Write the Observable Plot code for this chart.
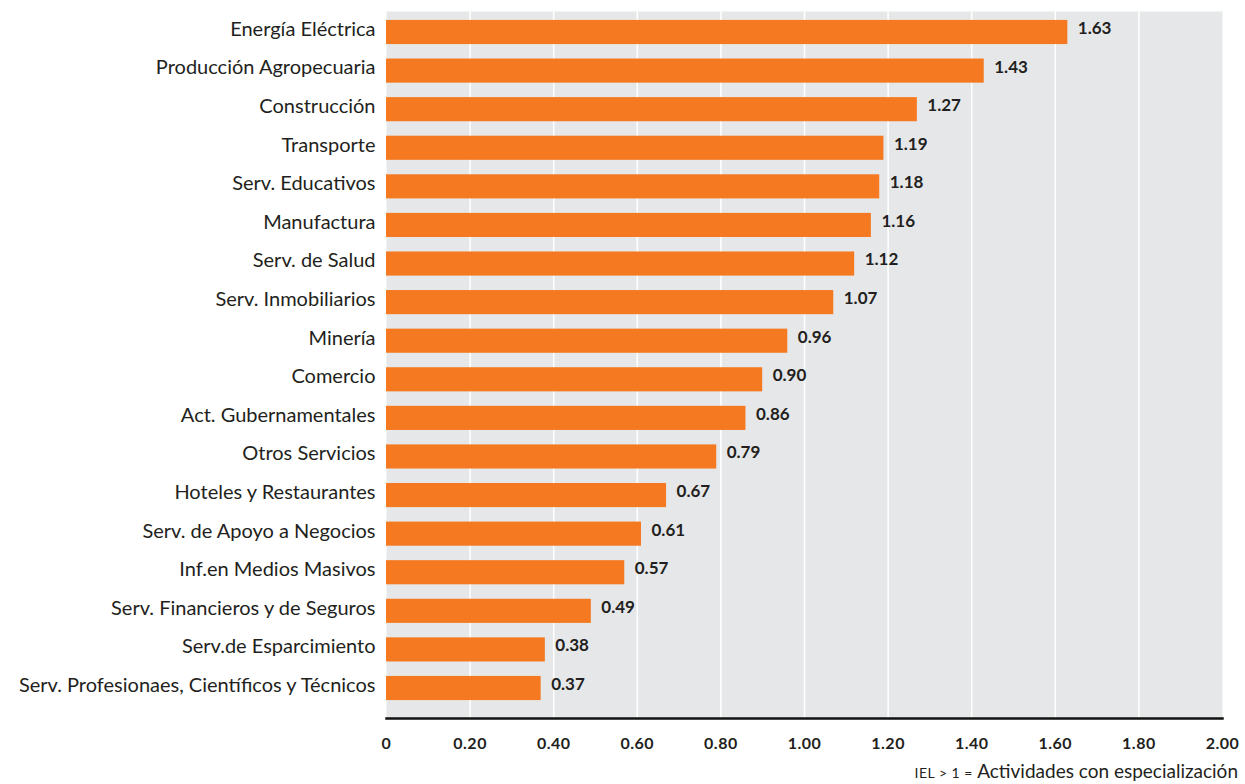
<!DOCTYPE html>
<html>
<head>
<meta charset="utf-8">
<script src="https://cdn.jsdelivr.net/npm/d3@7"></script>
<script src="https://cdn.jsdelivr.net/npm/@observablehq/plot@0.6"></script>
<style>
  html, body { margin: 0; padding: 0; background: #fff; }
  #wrap { position: relative; width: 1245px; height: 784px; overflow: hidden; }
  #chart svg { display: block; }
  #caption { position: absolute; left: 0; top: 761px; width: 1238px; text-align: right; font-family: Lato, "Open Sans", sans-serif; font-size: 19px; line-height: 20px; color: #231F20; white-space: nowrap; }
  #caption .sc { font-size: 14px; letter-spacing: 0.5px; }
</style>
</head>
<body>
<div id="wrap">
<div id="chart"></div>
<div id="caption"><span class="sc">IEL &gt; 1 =</span> Actividades con especialización</div>
</div>
<script>
const categories = [
  "Energía Eléctrica",
  "Producción Agropecuaria",
  "Construcción",
  "Transporte",
  "Serv. Educativos",
  "Manufactura",
  "Serv. de Salud",
  "Serv. Inmobiliarios",
  "Minería",
  "Comercio",
  "Act. Gubernamentales",
  "Otros Servicios",
  "Hoteles y Restaurantes",
  "Serv. de Apoyo a Negocios",
  "Inf.en Medios Masivos",
  "Serv. Financieros y de Seguros",
  "Serv.de Esparcimiento",
  "Serv. Profesionaes, Científicos y Técnicos"
];
const values = [1.63, 1.43, 1.27, 1.19, 1.18, 1.16, 1.12, 1.07, 0.96, 0.90, 0.86, 0.79, 0.67, 0.61, 0.57, 0.49, 0.38, 0.37];
const xTicks = [0, 0.2, 0.4, 0.6, 0.8, 1.0, 1.2, 1.4, 1.6, 1.8, 2.0];
const gridTicks = [0.2, 0.4, 0.6, 0.8, 1.0, 1.2, 1.4, 1.6, 1.8];

const data = categories.map((c, i) => ({category: c, value: values[i]}));
const fmt = d => d === 0 ? "0" : d.toFixed(2);

const chart = Plot.plot({
  width: 1245,
  height: 760,
  marginTop: 11,
  marginBottom: 42,
  marginLeft: 386,
  marginRight: 23,
  style: {fontFamily: "Lato, 'Open Sans', sans-serif", color: "#231F20", background: "#fff"},
  x: {domain: [0, 2], ticks: xTicks, tickFormat: fmt, label: null, tickSize: 0, tickPadding: 16},
  y: {domain: categories, label: null, round: false, paddingInner: 0.375, paddingOuter: 0.1875, insetTop: 1.7, insetBottom: 10.7, tickSize: 0, tickPadding: 11},
  marks: [
    Plot.frame({fill: "#E6E7E8", stroke: null}),
    Plot.ruleX(gridTicks, {stroke: "#fff", strokeWidth: 1.5}),
    Plot.barX(data, {x: "value", y: "category", fill: "#F47920"}),
    Plot.text(data, {x: "value", y: "category", text: d => d.value.toFixed(2), textAnchor: "start", dx: 10, dy: -4, fontWeight: "bold", fontSize: 17, fill: "#231F20", style: {letterSpacing: "1.5px"}}),
    Plot.frame({anchor: "bottom", stroke: "#111", strokeWidth: 2.5}),
    Plot.axisY({tickSize: 0, tickPadding: 11, dy: -3, fontSize: 20, fill: "#231F20"}),
    Plot.axisX({ticks: xTicks, tickFormat: fmt, tickSize: 0, tickPadding: 19, fontSize: 16, fontWeight: "bold", fill: "#231F20"})
  ]
});
chart.querySelectorAll("g[aria-label='x-axis tick label'] text").forEach(t => t.style.letterSpacing = "0.5px");
document.getElementById("chart").appendChild(chart);
</script>
</body>
</html>
